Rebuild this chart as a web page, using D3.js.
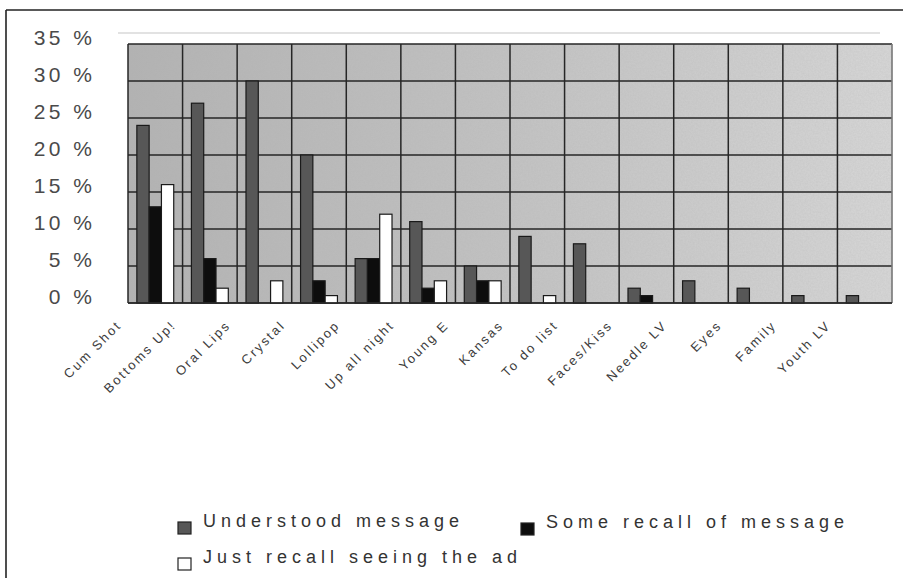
<!DOCTYPE html>
<html>
<head>
<meta charset="utf-8">
<script src="https://cdn.jsdelivr.net/npm/d3@7"></script>
<style>
  html, body { margin: 0; padding: 0; background: #fff; }
  svg { display: block; font-family: "Liberation Sans", Arial, sans-serif; }
</style>
</head>
<body>
<svg id="chart" width="903" height="578"></svg>
<script>
const categories = ["Cum Shot", "Bottoms Up!", "Oral Lips", "Crystal", "Lollipop", "Up all night", "Young E", "Kansas", "To do list", "Faces/Kiss", "Needle LV", "Eyes", "Family", "Youth LV"];
const seriesNames = ["Understood message", "Some recall of message", "Just recall seeing the ad"];
const understood = [24, 27, 30, 20, 6, 11, 5, 9, 8, 2, 3, 2, 1, 1];
const someRecall = [13, 6, 0, 3, 6, 2, 3, 0, 0, 1, 0, 0, 0, 0];
const justRecall = [16, 2, 3, 1, 12, 3, 3, 1, 0, 0, 0, 0, 0, 0];
const yTicks = [0, 5, 10, 15, 20, 25, 30, 35];

const seriesValues = [understood, someRecall, justRecall];
const fills = ["#575757", "#0d0d0d", "#ffffff"];

const svg = d3.select("#chart");
const plot = { left: 128, right: 892, top: 44, bottom: 303 };

// outer frame (top and left edges)
svg.append("line").attr("x1", 6).attr("x2", 903).attr("y1", 10).attr("y2", 10)
  .attr("stroke", "#222").attr("stroke-width", 1.6);
svg.append("line").attr("x1", 6).attr("x2", 6).attr("y1", 10).attr("y2", 578)
  .attr("stroke", "#222").attr("stroke-width", 1.6);

const defs = svg.append("defs");
const grad = defs.append("linearGradient").attr("id", "bg").attr("x1", "0").attr("x2", "1").attr("y1", "0").attr("y2", "0");
grad.append("stop").attr("offset", "0").attr("stop-color", "#b2b2b2");
grad.append("stop").attr("offset", "0.5").attr("stop-color", "#c2c2c2");
grad.append("stop").attr("offset", "1").attr("stop-color", "#d6d6d6");
const noise = defs.append("filter").attr("id", "noise").attr("x", 0).attr("y", 0).attr("width", 1).attr("height", 1);
noise.append("feTurbulence").attr("type", "fractalNoise").attr("baseFrequency", 0.6).attr("numOctaves", 2).attr("seed", 3);
noise.append("feColorMatrix").attr("type", "matrix")
  .attr("values", "0 0 0 0 0.45  0 0 0 0 0.45  0 0 0 0 0.45  0 0 0 0.6 -0.1");

const y = d3.scaleLinear().domain([0, 35]).range([plot.bottom, plot.top]);
const x0 = d3.scaleBand().domain(categories).range([plot.left, plot.right]).padding(0);
const x1 = d3.scaleBand().domain(seriesNames).range([0, x0.bandwidth()]).paddingInner(0).paddingOuter(0.72);

// faint line above the plot
svg.append("line").attr("x1", 118).attr("x2", 880).attr("y1", 33).attr("y2", 33)
  .attr("stroke", "#e2e2e2").attr("stroke-width", 2);

// plot background
svg.append("rect").attr("x", plot.left).attr("y", plot.top)
  .attr("width", plot.right - plot.left).attr("height", plot.bottom - plot.top)
  .attr("fill", "url(#bg)");
svg.append("rect").attr("x", plot.left).attr("y", plot.top)
  .attr("width", plot.right - plot.left).attr("height", plot.bottom - plot.top)
  .attr("filter", "url(#noise)").attr("opacity", 0.6);

// horizontal gridlines
svg.append("g").selectAll("line").data(yTicks).join("line")
  .attr("x1", plot.left).attr("x2", plot.right)
  .attr("y1", d => y(d)).attr("y2", d => y(d))
  .attr("stroke", "#262626").attr("stroke-width", 1.5);

// vertical gridlines at category boundaries
svg.append("g").selectAll("line").data(categories).join("line")
  .attr("x1", d => x0(d)).attr("x2", d => x0(d))
  .attr("y1", plot.top).attr("y2", plot.bottom)
  .attr("stroke", "#262626").attr("stroke-width", 1.5);
svg.append("line").attr("x1", plot.right).attr("x2", plot.right)
  .attr("y1", plot.top).attr("y2", plot.bottom)
  .attr("stroke", "#777").attr("stroke-width", 1.6);

// bars
const barData = [];
categories.forEach((c, i) => {
  seriesNames.forEach((s, j) => {
    const v = seriesValues[j][i];
    if (v > 0) barData.push({ c, s, v, j });
  });
});
svg.append("g").selectAll("rect").data(barData).join("rect")
  .attr("x", d => x0(d.c) + x1(d.s))
  .attr("y", d => y(d.v))
  .attr("width", x1.bandwidth())
  .attr("height", d => y(0) - y(d.v))
  .attr("fill", d => fills[d.j])
  .attr("stroke", "#1a1a1a").attr("stroke-width", 1.2);

// bottom axis line
svg.append("line").attr("x1", plot.left).attr("x2", plot.right)
  .attr("y1", plot.bottom).attr("y2", plot.bottom)
  .attr("stroke", "#2a2a2a").attr("stroke-width", 1.6);

// y axis labels
const yAxis = svg.append("g").attr("transform", `translate(${95.5},0)`)
  .call(d3.axisLeft(y).tickValues(yTicks).tickSize(0).tickPadding(0).tickFormat(d => d + " %"));
yAxis.select(".domain").remove();
yAxis.selectAll("text")
  .attr("font-family", "'Liberation Sans', Arial, sans-serif")
  .attr("font-size", 21).attr("letter-spacing", 3.5)
  .attr("fill", "#4a4a4a").attr("x", 0).attr("dy", "0.0em");

// x axis labels
const xAxis = svg.append("g").attr("transform", `translate(0,${plot.bottom})`)
  .call(d3.axisBottom(x0).tickSize(0));
xAxis.select(".domain").remove();
xAxis.selectAll("text")
  .attr("font-family", "'Liberation Sans', Arial, sans-serif")
  .attr("font-size", 13).attr("letter-spacing", 2.2)
  .attr("fill", "#3c3c3c")
  .attr("text-anchor", "end")
  .attr("y", 0).attr("dy", 0)
  .attr("transform", "translate(-33,23) rotate(-45)");

// legend
const legendItems = [
  { name: seriesNames[0], fill: fills[0], x: 178, y: 527 },
  { name: seriesNames[1], fill: fills[1], x: 521, y: 528 },
  { name: seriesNames[2], fill: fills[2], x: 178, y: 563 }
];
const lg = svg.append("g").selectAll("g").data(legendItems).join("g")
  .attr("transform", d => `translate(${d.x},${d.y})`);
lg.append("rect").attr("x", 0).attr("y", -5).attr("width", 13).attr("height", 12)
  .attr("fill", d => d.fill).attr("stroke", "#222").attr("stroke-width", 1.2);
lg.append("text").attr("x", 25).attr("y", 0)
  .attr("font-size", 18).attr("letter-spacing", 5).attr("fill", "#333")
  .text(d => d.name);
</script>
</body>
</html>
